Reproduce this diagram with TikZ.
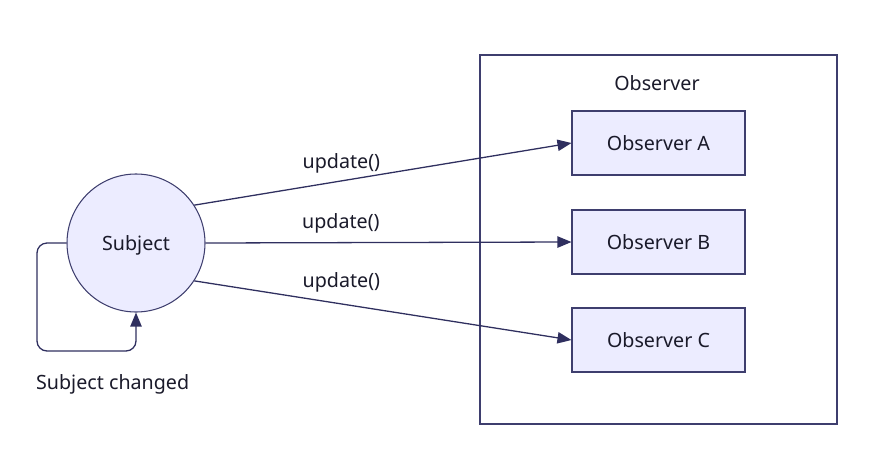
\documentclass[tikz,border=0pt]{standalone}
\usepackage{fontspec}
\setmainfont{Noto Sans}
\usetikzlibrary{arrows.meta}

\definecolor{nodefill}{HTML}{ECECFF}
\definecolor{nodeline}{HTML}{3E3E6E}
\definecolor{linkline}{HTML}{2F2F5F}
\definecolor{textcol}{HTML}{1A1A2A}

\tikzset{
	diag/.style={x=0.03cm, y=-0.03cm, font=\fontsize{16.8}{19}\selectfont, text=textcol},
	subjectnode/.style={circle, draw=nodeline, fill=nodefill, line width=0.9pt, minimum size=4.14cm, inner sep=0pt},
	observernode/.style={rectangle, draw=nodeline, fill=nodefill, line width=0.9pt, minimum width=5.19cm, minimum height=1.92cm},
	groupbox/.style={rectangle, draw=nodeline, line width=0.9pt, minimum width=10.71cm, minimum height=11.07cm},
	link/.style={draw=linkline, line width=1.1pt, -{Triangle[length=0.42cm, width=0.34cm]}},
}

\begin{document}
\begin{tikzpicture}[diag]
		\useasboundingbox (0, 0) rectangle (873, 472);

		% observer group
		\node[groupbox] (group) at (658.5, 239.5) {};
		\node (grouptitle) at (657, 83) {Observer};

		\node[subjectnode] (subject) at (136, 243) {};
		\node (subjectlabel) at (136, 245) {Subject};
		\node[observernode] (obsa) at (658.5, 143) {Observer A};
		\node[observernode] (obsb) at (658.5, 242) {Observer B};
		\node[observernode] (obsc) at (658.5, 340) {Observer C};

		\draw[link] (subject.33) -- node[pos=0.39, above=3pt] {update()} (obsa.west);
		\draw[link] (subject.east) -- node[pos=0.37, above=4.5pt] {update()} (obsb.west);
		\draw[link] (subject.-33) -- node[pos=0.39, above=6pt] {update()} (obsc.west);

		% self loop
		\coordinate (loopcorner) at (37, 351);
		\draw[link, rounded corners=0.3cm] (subject.west) -| (loopcorner) -| (subject.south);
		\node[anchor=west] (changed) at (32, 384) {Subject changed};
	\end{tikzpicture}
\end{document}
